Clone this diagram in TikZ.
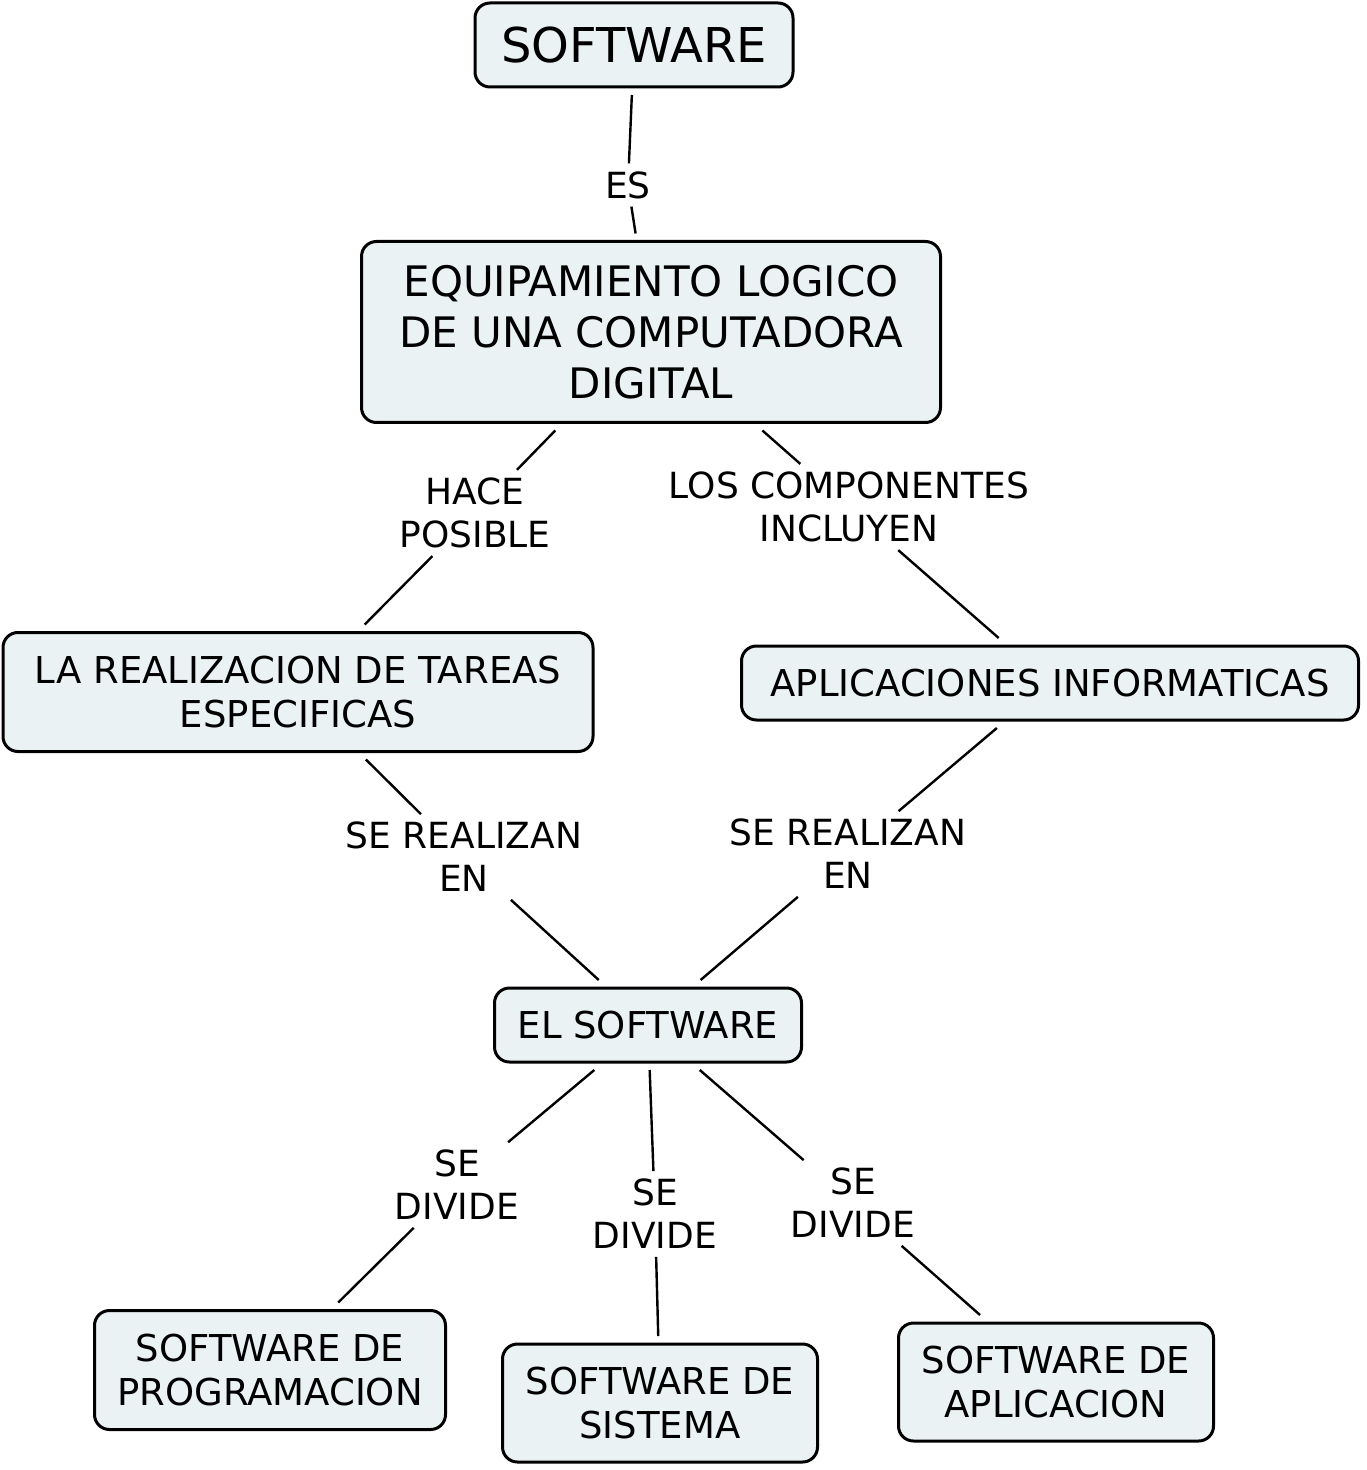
\documentclass[tikz,border=0pt]{standalone}
\usepackage{fontspec}
\setmainfont{DejaVu Sans}
\definecolor{concept-fill}{RGB}{235,242,244}
\tikzstyle{concept}=[draw=black,fill=concept-fill,line width=1.5pt,rounded corners=7.5pt,align=center,outer sep=4pt,inner sep=2pt]
\tikzstyle{linkword}=[align=center,inner xsep=2pt,inner ysep=4pt,outer sep=0pt,font=\fontsize{18}{21.5}\selectfont]
\tikzstyle{link}=[line width=1.2pt]
\newcommand{\linkvia}[3]{% Syntax: {from}{label}{to}
  \draw[link] (#1) -- (#2);
  \draw[link] (#2) -- (#3);
}

\begin{document}
\begin{tikzpicture}[x=0.5pt,y=-0.5pt]
\useasboundingbox (0,0) rectangle (1366,1470);
% draw concepts
\node[concept,minimum width=159pt,minimum height=42pt,font=\fontsize{24}{28}\selectfont] (software) at (634,45) {SOFTWARE};
\node[concept,minimum width=289.5pt,minimum height=90.5pt,font=\fontsize{21}{25.5}\selectfont] (equipamiento) at (651,332) {EQUIPAMIENTO LOGICO\\DE UNA COMPUTADORA\\DIGITAL};
\node[concept,minimum width=295pt,minimum height=59.5pt,font=\fontsize{18.5}{22}\selectfont] (tareas) at (298,692) {LA REALIZACION DE TAREAS\\ESPECIFICAS};
\node[concept,minimum width=308.5pt,minimum height=37pt,font=\fontsize{18.5}{22}\selectfont] (aplicaciones) at (1050,683) {APLICACIONES INFORMATICAS};
\node[concept,minimum width=153.5pt,minimum height=37pt,font=\fontsize{18.5}{22}\selectfont] (elsoftware) at (648,1025) {EL SOFTWARE};
\node[concept,minimum width=175.5pt,minimum height=59.5pt,font=\fontsize{18.5}{22}\selectfont] (programacion) at (270,1370) {SOFTWARE DE\\PROGRAMACION};
\node[concept,minimum width=157.5pt,minimum height=59pt,font=\fontsize{18.5}{22}\selectfont] (sistema) at (660,1403) {SOFTWARE DE\\SISTEMA};
\node[concept,minimum width=157.5pt,minimum height=59pt,font=\fontsize{18.5}{22}\selectfont] (aplicacion) at (1056,1382) {SOFTWARE DE\\APLICACION};
% link words
\node[linkword] (es) at (628,185) {ES};
\node[linkword] (hace) at (475,513) {HACE\\POSIBLE};
\node[linkword] (incluyen) at (849,507) {LOS COMPONENTES\\INCLUYEN};
\node[linkword] (realizanL) at (464,857) {SE REALIZAN\\EN};
\node[linkword] (realizanR) at (848,854) {SE REALIZAN\\EN};
\node[linkword] (divideL) at (457,1185) {SE\\DIVIDE};
\node[linkword] (divideM) at (655,1214) {SE\\DIVIDE};
\node[linkword] (divideR) at (853,1203) {SE\\DIVIDE};
% connectors
\linkvia{software}{es}{equipamiento}
\linkvia{equipamiento}{hace}{tareas}
\linkvia{equipamiento}{incluyen}{aplicaciones}
\linkvia{tareas}{realizanL}{elsoftware}
\linkvia{aplicaciones}{realizanR}{elsoftware}
\linkvia{elsoftware}{divideL}{programacion}
\linkvia{elsoftware}{divideM}{sistema}
\linkvia{elsoftware}{divideR}{aplicacion}
\end{tikzpicture}
\end{document}
